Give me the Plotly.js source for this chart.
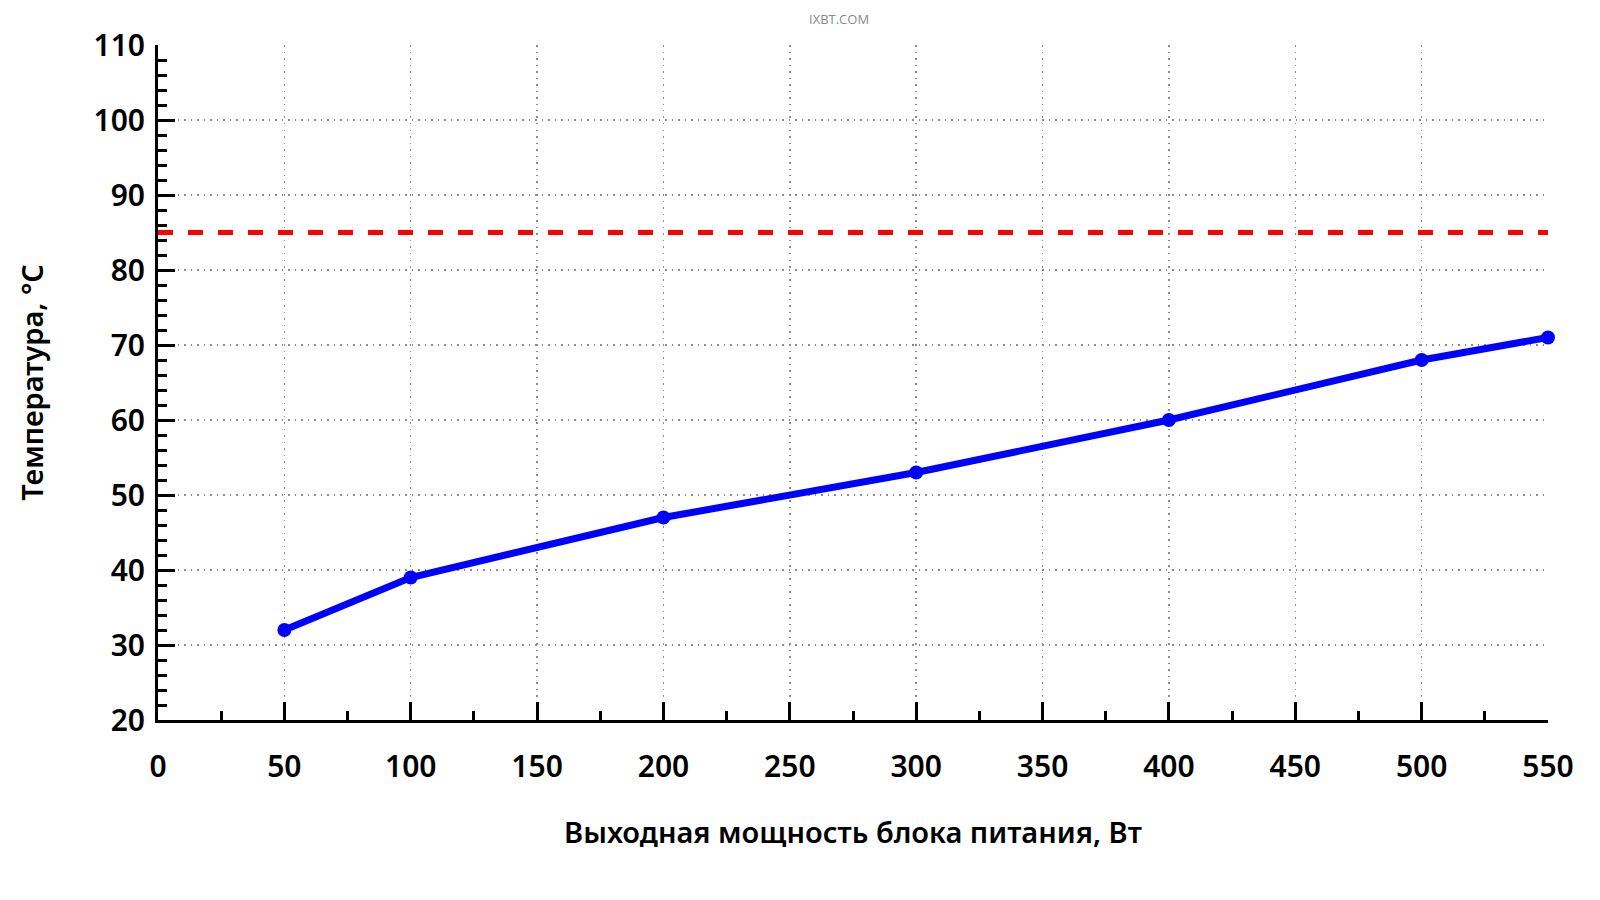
<!DOCTYPE html>
<html>
<head>
<meta charset="utf-8">
<script src="https://cdn.plot.ly/plotly-3.0.1.min.js"></script>
<style>
  html, body { margin: 0; padding: 0; background: #fff; }
  #chart { width: 1600px; height: 900px; }
</style>
</head>
<body>
<div id="chart"></div>
<script>
// output power, W
let power_w = [50, 100, 200, 300, 400, 500, 550];
// temperature, °C
let temp_c = [32, 39, 47, 53, 60, 68, 71];

// limit line
let limit_x = [0, 550];
let limit_y = [85, 85];

let x_title = "Выходная мощность блока питания, Вт";
let y_title = "Температура, °C";
let watermark = "IXBT.COM";

let tick_font = { family: "Noto Sans", size: 30, color: "#000", weight: 600 };
let title_font = { family: "Noto Sans", size: 29, color: "#000", weight: 600 };

var data = [
    {
        type: "scatter",
        mode: "lines",
        x: limit_x,
        y: limit_y,
        line: { color: "#ff0000", width: 5, dash: "15px,15px" },
        hoverinfo: "skip",
        showlegend: false
    },
    {
        type: "scatter",
        mode: "lines+markers",
        x: power_w,
        y: temp_c,
        line: { color: "#0000ff", width: 7 },
        marker: { color: "#0000ff", size: 14 },
        cliponaxis: false,
        showlegend: false
    }
];

var layout = {
    width: 1600,
    height: 900,
    paper_bgcolor: "#fff",
    plot_bgcolor: "#fff",
    margin: { l: 158, r: 52, t: 45, b: 180 },
    xaxis: {
        range: [0, 550],
        dtick: 50,
        tick0: 0,
        ticks: "inside",
        ticklen: 18,
        tickwidth: 3,
        tickcolor: "#000",
        showline: true,
        linewidth: 3,
        linecolor: "#000",
        zeroline: false,
        showgrid: true,
        gridcolor: "#8c8c8c",
        griddash: "1.5px,5px",
        gridwidth: 1.5,
        tickfont: tick_font,
        ticklabelstandoff: 18,
        minor: { dtick: 25, ticks: "inside", ticklen: 9, tickwidth: 3, tickcolor: "#000", showgrid: false },
        title: {
            text: x_title,
            font: title_font,
            standoff: 38
        }
    },
    yaxis: {
        range: [20, 110],
        dtick: 10,
        tick0: 0,
        ticks: "inside",
        ticklen: 17,
        tickwidth: 3,
        tickcolor: "#000",
        showline: true,
        linewidth: 3,
        linecolor: "#000",
        zeroline: false,
        showgrid: true,
        gridcolor: "#8c8c8c",
        griddash: "1.5px,5px",
        gridwidth: 1.5,
        tickfont: tick_font,
        ticklabelstandoff: 4,
        minor: { dtick: 2, ticks: "inside", ticklen: 9, tickwidth: 3, tickcolor: "#000", showgrid: false },
        title: {
            text: y_title,
            font: title_font,
            standoff: 42
        }
    },
    annotations: [
        {
            text: watermark,
            xref: "paper", yref: "paper",
            x: 0.49, y: 1, yshift: 26,
            yanchor: "middle",
            showarrow: false,
            font: { family: "Open Sans", size: 13, color: "#8a8a8a" }
        }
    ]
};

Plotly.newPlot("chart", data, layout, { displayModeBar: false, staticPlot: true });
</script>
</body>
</html>
